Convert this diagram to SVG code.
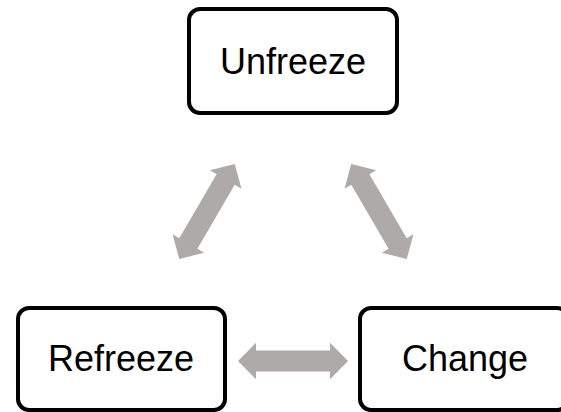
<svg xmlns="http://www.w3.org/2000/svg" width="561" height="412" viewBox="0 0 561 412">
  <style>
    .box { fill: #ffffff; stroke: #000000; stroke-width: 4; }
    .label { font-family: "Liberation Sans", Arial, Helvetica, sans-serif; font-size: 36px; fill: #000000; text-anchor: middle; }
    .arrow { fill: #aeaaa9; stroke: none; }
  </style>
  <defs>
    <path id="dblarrow" d="M -55 0 L -37 -18.3 L -37 -10.5 L 37 -10.5 L 37 -18.3 L 55 0 L 37 18.3 L 37 10.5 L -37 10.5 L -37 18.3 Z"/>
  </defs>
  <rect width="561" height="412" fill="#ffffff"/>
  <g id="connectors">
    <use href="#dblarrow" class="arrow" transform="translate(207,211.5) rotate(-59.7)"/>
    <use href="#dblarrow" class="arrow" transform="translate(379,211.5) rotate(59.7)"/>
    <use href="#dblarrow" class="arrow" transform="translate(293,361)"/>
  </g>
  <g id="unfreeze">
    <rect class="box" x="189" y="9" width="208" height="104" rx="11" ry="11"/>
    <text class="label" x="293" y="74">Unfreeze</text>
  </g>
  <g id="refreeze">
    <rect class="box" x="18" y="308" width="207" height="102" rx="11" ry="11"/>
    <text class="label" x="121" y="371">Refreeze</text>
  </g>
  <g id="change">
    <rect class="box" x="360" y="308" width="208" height="102" rx="11" ry="11"/>
    <text class="label" x="465" y="371">Change</text>
  </g>
</svg>
